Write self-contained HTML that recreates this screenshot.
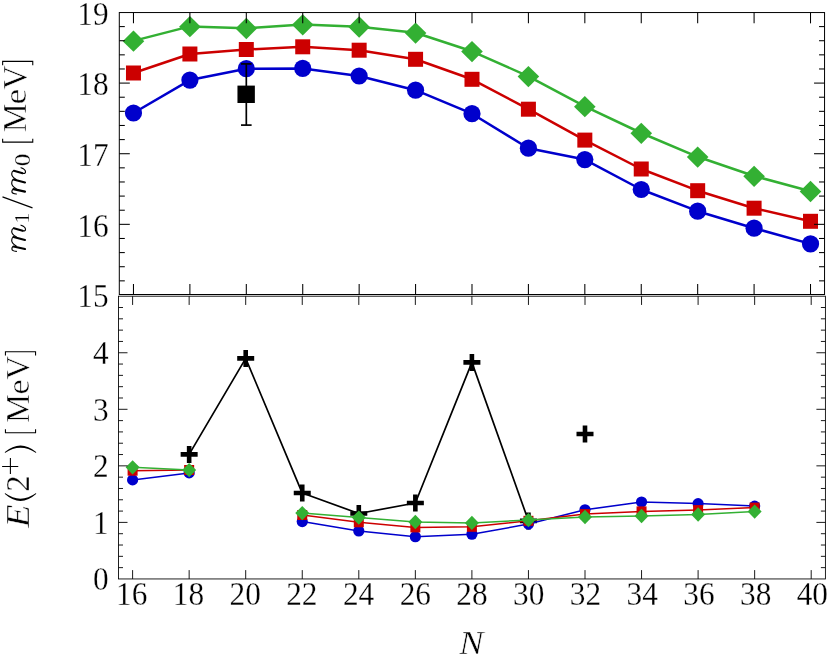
<!DOCTYPE html>
<html lang="en">
<head>
<meta charset="utf-8">
<title>m1/m0 and E(2+) versus N</title>
<style>
html,body{margin:0;padding:0;background:#fff;}
body{width:830px;height:658px;overflow:hidden;font-family:"Liberation Serif",serif;}
svg{display:block;}
#labels,#titles{filter:grayscale(1);}
</style>
</head>
<body>
<svg width="830" height="658" viewBox="0 0 830 658">
<rect width="830" height="658" fill="#fff"/>
<g id="top-data">
<polyline fill="none" stroke="#0000cc" stroke-width="2.5" stroke-linejoin="round" points="133.47,113 189.89,80.1 246.31,68.7 302.73,68.4 359.15,76 415.57,90.2 471.99,113.7 528.41,148.2 584.83,159.6 641.25,189.5 697.67,211.2 754.09,228.2 810.51,243.9"/>
<circle cx="133.47" cy="113" r="8.6" fill="#0000cc"/>
<circle cx="189.89" cy="80.1" r="8.6" fill="#0000cc"/>
<circle cx="246.31" cy="68.7" r="8.6" fill="#0000cc"/>
<circle cx="302.73" cy="68.4" r="8.6" fill="#0000cc"/>
<circle cx="359.15" cy="76" r="8.6" fill="#0000cc"/>
<circle cx="415.57" cy="90.2" r="8.6" fill="#0000cc"/>
<circle cx="471.99" cy="113.7" r="8.6" fill="#0000cc"/>
<circle cx="528.41" cy="148.2" r="8.6" fill="#0000cc"/>
<circle cx="584.83" cy="159.6" r="8.6" fill="#0000cc"/>
<circle cx="641.25" cy="189.5" r="8.6" fill="#0000cc"/>
<circle cx="697.67" cy="211.2" r="8.6" fill="#0000cc"/>
<circle cx="754.09" cy="228.2" r="8.6" fill="#0000cc"/>
<circle cx="810.51" cy="243.9" r="8.6" fill="#0000cc"/>
<line x1="246.31" y1="63.9" x2="246.31" y2="125.1" stroke="#000" stroke-width="1.7"/>
<line x1="241.01" y1="63.9" x2="251.61" y2="63.9" stroke="#000" stroke-width="1.7"/>
<line x1="241.01" y1="125.1" x2="251.61" y2="125.1" stroke="#000" stroke-width="1.7"/>
<rect x="237.46" y="85.6" width="17.4" height="17.4" fill="#000"/>
<polyline fill="none" stroke="#cc0000" stroke-width="2.5" stroke-linejoin="round" points="133.47,73 189.89,54 246.31,49.5 302.73,46.8 359.15,50.2 415.57,59.3 471.99,79.3 528.41,109.2 584.83,140.1 641.25,169 697.67,190.7 754.09,208.2 810.51,221.3"/>
<rect x="125.97" y="65.5" width="15" height="15" fill="#cc0000"/>
<rect x="182.39" y="46.5" width="15" height="15" fill="#cc0000"/>
<rect x="238.81" y="42" width="15" height="15" fill="#cc0000"/>
<rect x="295.23" y="39.3" width="15" height="15" fill="#cc0000"/>
<rect x="351.65" y="42.7" width="15" height="15" fill="#cc0000"/>
<rect x="408.07" y="51.8" width="15" height="15" fill="#cc0000"/>
<rect x="464.49" y="71.8" width="15" height="15" fill="#cc0000"/>
<rect x="520.91" y="101.7" width="15" height="15" fill="#cc0000"/>
<rect x="577.33" y="132.6" width="15" height="15" fill="#cc0000"/>
<rect x="633.75" y="161.5" width="15" height="15" fill="#cc0000"/>
<rect x="690.17" y="183.2" width="15" height="15" fill="#cc0000"/>
<rect x="746.59" y="200.7" width="15" height="15" fill="#cc0000"/>
<rect x="803.01" y="213.8" width="15" height="15" fill="#cc0000"/>
<polyline fill="none" stroke="#33b033" stroke-width="2.5" stroke-linejoin="round" points="133.47,40.9 189.89,26.4 246.31,28.2 302.73,24.5 359.15,26.7 415.57,32.8 471.99,51.3 528.41,76.3 584.83,106.4 641.25,133 697.67,156.8 754.09,176 810.51,191.2"/>
<path d="M122.67 41.2L133.47 30.55L144.27 41.2L133.47 51.85Z" fill="#33b033"/>
<path d="M179.09 26.7L189.89 16.05L200.69 26.7L189.89 37.35Z" fill="#33b033"/>
<path d="M235.51 28.5L246.31 17.85L257.11 28.5L246.31 39.15Z" fill="#33b033"/>
<path d="M291.93 24.8L302.73 14.15L313.53 24.8L302.73 35.45Z" fill="#33b033"/>
<path d="M348.35 27L359.15 16.35L369.95 27L359.15 37.65Z" fill="#33b033"/>
<path d="M404.77 33.1L415.57 22.45L426.37 33.1L415.57 43.75Z" fill="#33b033"/>
<path d="M461.19 51.6L471.99 40.95L482.79 51.6L471.99 62.25Z" fill="#33b033"/>
<path d="M517.61 76.6L528.41 65.95L539.21 76.6L528.41 87.25Z" fill="#33b033"/>
<path d="M574.03 106.7L584.83 96.05L595.63 106.7L584.83 117.35Z" fill="#33b033"/>
<path d="M630.45 133.3L641.25 122.65L652.05 133.3L641.25 143.95Z" fill="#33b033"/>
<path d="M686.87 157.1L697.67 146.45L708.47 157.1L697.67 167.75Z" fill="#33b033"/>
<path d="M743.29 176.3L754.09 165.65L764.89 176.3L754.09 186.95Z" fill="#33b033"/>
<path d="M799.71 191.5L810.51 180.85L821.31 191.5L810.51 202.15Z" fill="#33b033"/>
</g>
<g id="bot-data">
<polyline fill="none" stroke="#000" stroke-width="1.7" stroke-linejoin="round" points="189.15,454.4 245.7,358.4 302.25,493.05 358.8,513.5 415.35,503 471.9,362.4 528.45,520.9"/>
<path d="M180.65 454.4H197.65M189.15 445.9V462.9" stroke="#000" stroke-width="4.6" fill="none"/>
<path d="M237.2 358.4H254.2M245.7 349.9V366.9" stroke="#000" stroke-width="4.6" fill="none"/>
<path d="M293.75 493.05H310.75M302.25 484.55V501.55" stroke="#000" stroke-width="4.6" fill="none"/>
<path d="M350.3 513.5H367.3M358.8 505V522" stroke="#000" stroke-width="4.6" fill="none"/>
<path d="M406.85 503H423.85M415.35 494.5V511.5" stroke="#000" stroke-width="4.6" fill="none"/>
<path d="M463.4 362.4H480.4M471.9 353.9V370.9" stroke="#000" stroke-width="4.6" fill="none"/>
<path d="M519.95 520.9H536.95M528.45 512.4V529.4" stroke="#000" stroke-width="4.6" fill="none"/>
<path d="M576.5 434H593.5M585 425.5V442.5" stroke="#000" stroke-width="4.6" fill="none"/>
<polyline fill="none" stroke="#0000cc" stroke-width="1.5" stroke-linejoin="round" points="132.6,479.9 189.15,472.9"/>
<polyline fill="none" stroke="#0000cc" stroke-width="1.5" stroke-linejoin="round" points="302.25,521.6 358.8,531 415.35,536.7 471.9,534.2 528.45,524.1 585,509.8 641.55,502 698.1,503.6 754.65,506.1"/>
<circle cx="132.6" cy="479.9" r="5.6" fill="#0000cc"/>
<circle cx="189.15" cy="472.9" r="5.6" fill="#0000cc"/>
<circle cx="302.25" cy="521.6" r="5.6" fill="#0000cc"/>
<circle cx="358.8" cy="531" r="5.6" fill="#0000cc"/>
<circle cx="415.35" cy="536.7" r="5.6" fill="#0000cc"/>
<circle cx="471.9" cy="534.2" r="5.6" fill="#0000cc"/>
<circle cx="528.45" cy="524.1" r="5.6" fill="#0000cc"/>
<circle cx="585" cy="509.8" r="5.6" fill="#0000cc"/>
<circle cx="641.55" cy="502" r="5.6" fill="#0000cc"/>
<circle cx="698.1" cy="503.6" r="5.6" fill="#0000cc"/>
<circle cx="754.65" cy="506.1" r="5.6" fill="#0000cc"/>
<polyline fill="none" stroke="#cc0000" stroke-width="1.5" stroke-linejoin="round" points="132.6,470.7 189.15,470"/>
<polyline fill="none" stroke="#cc0000" stroke-width="1.5" stroke-linejoin="round" points="302.25,515 358.8,522.3 415.35,527.4 471.9,526.8 528.45,520.8 585,514.1 641.55,511.4 698.1,510.1 754.65,507.6"/>
<rect x="127.6" y="465.7" width="10.0" height="10.0" fill="#cc0000"/>
<rect x="184.15" y="465" width="10.0" height="10.0" fill="#cc0000"/>
<rect x="297.25" y="510" width="10.0" height="10.0" fill="#cc0000"/>
<rect x="353.8" y="517.3" width="10.0" height="10.0" fill="#cc0000"/>
<rect x="410.35" y="522.4" width="10.0" height="10.0" fill="#cc0000"/>
<rect x="466.9" y="521.8" width="10.0" height="10.0" fill="#cc0000"/>
<rect x="523.45" y="515.8" width="10.0" height="10.0" fill="#cc0000"/>
<rect x="580" y="509.1" width="10.0" height="10.0" fill="#cc0000"/>
<rect x="636.55" y="506.4" width="10.0" height="10.0" fill="#cc0000"/>
<rect x="693.1" y="505.1" width="10.0" height="10.0" fill="#cc0000"/>
<rect x="749.65" y="502.6" width="10.0" height="10.0" fill="#cc0000"/>
<polyline fill="none" stroke="#33b033" stroke-width="1.5" stroke-linejoin="round" points="132.6,467.3 189.15,470.1"/>
<polyline fill="none" stroke="#33b033" stroke-width="1.5" stroke-linejoin="round" points="302.25,513.1 358.8,517.6 415.35,522 471.9,522.9 528.45,520.1 585,517 641.55,516 698.1,514.5 754.65,511.6"/>
<path d="M125.6 467.3L132.6 460.15L139.6 467.3L132.6 474.45Z" fill="#33b033"/>
<path d="M182.15 470.1L189.15 462.95L196.15 470.1L189.15 477.25Z" fill="#33b033"/>
<path d="M295.25 513.1L302.25 505.95L309.25 513.1L302.25 520.25Z" fill="#33b033"/>
<path d="M351.8 517.6L358.8 510.45L365.8 517.6L358.8 524.75Z" fill="#33b033"/>
<path d="M408.35 522L415.35 514.85L422.35 522L415.35 529.15Z" fill="#33b033"/>
<path d="M464.9 522.9L471.9 515.75L478.9 522.9L471.9 530.05Z" fill="#33b033"/>
<path d="M521.45 520.1L528.45 512.95L535.45 520.1L528.45 527.25Z" fill="#33b033"/>
<path d="M578 517L585 509.85L592 517L585 524.15Z" fill="#33b033"/>
<path d="M634.55 516L641.55 508.85L648.55 516L641.55 523.15Z" fill="#33b033"/>
<path d="M691.1 514.5L698.1 507.35L705.1 514.5L698.1 521.65Z" fill="#33b033"/>
<path d="M747.65 511.6L754.65 504.45L761.65 511.6L754.65 518.75Z" fill="#33b033"/>
</g>
<g id="frames" fill="none">
<rect x="119.3" y="12.55" width="705.25" height="281.95" stroke="#000" stroke-width="1.0"/>
<rect x="118.5" y="296.2" width="706.9" height="282.75" stroke="#000" stroke-width="0.87"/>
</g>
<g id="ticks-top">
<line x1="133.47" y1="12.55" x2="133.47" y2="23.35" stroke="#000" stroke-width="1.05"/>
<line x1="133.47" y1="294.5" x2="133.47" y2="284" stroke="#000" stroke-width="1.05"/>
<line x1="189.89" y1="12.55" x2="189.89" y2="23.35" stroke="#000" stroke-width="1.05"/>
<line x1="189.89" y1="294.5" x2="189.89" y2="284" stroke="#000" stroke-width="1.05"/>
<line x1="246.31" y1="12.55" x2="246.31" y2="23.35" stroke="#000" stroke-width="1.05"/>
<line x1="246.31" y1="294.5" x2="246.31" y2="284" stroke="#000" stroke-width="1.05"/>
<line x1="302.73" y1="12.55" x2="302.73" y2="23.35" stroke="#000" stroke-width="1.05"/>
<line x1="302.73" y1="294.5" x2="302.73" y2="284" stroke="#000" stroke-width="1.05"/>
<line x1="359.15" y1="12.55" x2="359.15" y2="23.35" stroke="#000" stroke-width="1.05"/>
<line x1="359.15" y1="294.5" x2="359.15" y2="284" stroke="#000" stroke-width="1.05"/>
<line x1="415.57" y1="12.55" x2="415.57" y2="23.35" stroke="#000" stroke-width="1.05"/>
<line x1="415.57" y1="294.5" x2="415.57" y2="284" stroke="#000" stroke-width="1.05"/>
<line x1="471.99" y1="12.55" x2="471.99" y2="23.35" stroke="#000" stroke-width="1.05"/>
<line x1="471.99" y1="294.5" x2="471.99" y2="284" stroke="#000" stroke-width="1.05"/>
<line x1="528.41" y1="12.55" x2="528.41" y2="23.35" stroke="#000" stroke-width="1.05"/>
<line x1="528.41" y1="294.5" x2="528.41" y2="284" stroke="#000" stroke-width="1.05"/>
<line x1="584.83" y1="12.55" x2="584.83" y2="23.35" stroke="#000" stroke-width="1.05"/>
<line x1="584.83" y1="294.5" x2="584.83" y2="284" stroke="#000" stroke-width="1.05"/>
<line x1="641.25" y1="12.55" x2="641.25" y2="23.35" stroke="#000" stroke-width="1.05"/>
<line x1="641.25" y1="294.5" x2="641.25" y2="284" stroke="#000" stroke-width="1.05"/>
<line x1="697.67" y1="12.55" x2="697.67" y2="23.35" stroke="#000" stroke-width="1.05"/>
<line x1="697.67" y1="294.5" x2="697.67" y2="284" stroke="#000" stroke-width="1.05"/>
<line x1="754.09" y1="12.55" x2="754.09" y2="23.35" stroke="#000" stroke-width="1.05"/>
<line x1="754.09" y1="294.5" x2="754.09" y2="284" stroke="#000" stroke-width="1.05"/>
<line x1="810.51" y1="12.55" x2="810.51" y2="23.35" stroke="#000" stroke-width="1.05"/>
<line x1="810.51" y1="294.5" x2="810.51" y2="284" stroke="#000" stroke-width="1.05"/>
<line x1="119.3" y1="26.59" x2="124.8" y2="26.59" stroke="#000" stroke-width="1.05"/>
<line x1="824.55" y1="26.59" x2="819.05" y2="26.59" stroke="#000" stroke-width="1.05"/>
<line x1="119.3" y1="40.72" x2="124.8" y2="40.72" stroke="#000" stroke-width="1.05"/>
<line x1="824.55" y1="40.72" x2="819.05" y2="40.72" stroke="#000" stroke-width="1.05"/>
<line x1="119.3" y1="54.84" x2="124.8" y2="54.84" stroke="#000" stroke-width="1.05"/>
<line x1="824.55" y1="54.84" x2="819.05" y2="54.84" stroke="#000" stroke-width="1.05"/>
<line x1="119.3" y1="68.97" x2="124.8" y2="68.97" stroke="#000" stroke-width="1.05"/>
<line x1="824.55" y1="68.97" x2="819.05" y2="68.97" stroke="#000" stroke-width="1.05"/>
<line x1="119.3" y1="83.09" x2="129.8" y2="83.09" stroke="#000" stroke-width="1.05"/>
<line x1="824.55" y1="83.09" x2="814.05" y2="83.09" stroke="#000" stroke-width="1.05"/>
<line x1="119.3" y1="97.22" x2="124.8" y2="97.22" stroke="#000" stroke-width="1.05"/>
<line x1="824.55" y1="97.22" x2="819.05" y2="97.22" stroke="#000" stroke-width="1.05"/>
<line x1="119.3" y1="111.34" x2="124.8" y2="111.34" stroke="#000" stroke-width="1.05"/>
<line x1="824.55" y1="111.34" x2="819.05" y2="111.34" stroke="#000" stroke-width="1.05"/>
<line x1="119.3" y1="125.47" x2="124.8" y2="125.47" stroke="#000" stroke-width="1.05"/>
<line x1="824.55" y1="125.47" x2="819.05" y2="125.47" stroke="#000" stroke-width="1.05"/>
<line x1="119.3" y1="139.59" x2="124.8" y2="139.59" stroke="#000" stroke-width="1.05"/>
<line x1="824.55" y1="139.59" x2="819.05" y2="139.59" stroke="#000" stroke-width="1.05"/>
<line x1="119.3" y1="153.72" x2="129.8" y2="153.72" stroke="#000" stroke-width="1.05"/>
<line x1="824.55" y1="153.72" x2="814.05" y2="153.72" stroke="#000" stroke-width="1.05"/>
<line x1="119.3" y1="167.84" x2="124.8" y2="167.84" stroke="#000" stroke-width="1.05"/>
<line x1="824.55" y1="167.84" x2="819.05" y2="167.84" stroke="#000" stroke-width="1.05"/>
<line x1="119.3" y1="181.97" x2="124.8" y2="181.97" stroke="#000" stroke-width="1.05"/>
<line x1="824.55" y1="181.97" x2="819.05" y2="181.97" stroke="#000" stroke-width="1.05"/>
<line x1="119.3" y1="196.09" x2="124.8" y2="196.09" stroke="#000" stroke-width="1.05"/>
<line x1="824.55" y1="196.09" x2="819.05" y2="196.09" stroke="#000" stroke-width="1.05"/>
<line x1="119.3" y1="210.22" x2="124.8" y2="210.22" stroke="#000" stroke-width="1.05"/>
<line x1="824.55" y1="210.22" x2="819.05" y2="210.22" stroke="#000" stroke-width="1.05"/>
<line x1="119.3" y1="224.34" x2="129.8" y2="224.34" stroke="#000" stroke-width="1.05"/>
<line x1="824.55" y1="224.34" x2="814.05" y2="224.34" stroke="#000" stroke-width="1.05"/>
<line x1="119.3" y1="238.47" x2="124.8" y2="238.47" stroke="#000" stroke-width="1.05"/>
<line x1="824.55" y1="238.47" x2="819.05" y2="238.47" stroke="#000" stroke-width="1.05"/>
<line x1="119.3" y1="252.59" x2="124.8" y2="252.59" stroke="#000" stroke-width="1.05"/>
<line x1="824.55" y1="252.59" x2="819.05" y2="252.59" stroke="#000" stroke-width="1.05"/>
<line x1="119.3" y1="266.72" x2="124.8" y2="266.72" stroke="#000" stroke-width="1.05"/>
<line x1="824.55" y1="266.72" x2="819.05" y2="266.72" stroke="#000" stroke-width="1.05"/>
<line x1="119.3" y1="280.85" x2="124.8" y2="280.85" stroke="#000" stroke-width="1.05"/>
<line x1="824.55" y1="280.85" x2="819.05" y2="280.85" stroke="#000" stroke-width="1.05"/>
</g>
<g id="ticks-bot">
<line x1="132.6" y1="296.2" x2="132.6" y2="304.95" stroke="#000" stroke-width="0.9"/>
<line x1="132.6" y1="578.95" x2="132.6" y2="570.1" stroke="#000" stroke-width="0.9"/>
<line x1="189.15" y1="296.2" x2="189.15" y2="304.95" stroke="#000" stroke-width="0.9"/>
<line x1="189.15" y1="578.95" x2="189.15" y2="570.1" stroke="#000" stroke-width="0.9"/>
<line x1="245.7" y1="296.2" x2="245.7" y2="304.95" stroke="#000" stroke-width="0.9"/>
<line x1="245.7" y1="578.95" x2="245.7" y2="570.1" stroke="#000" stroke-width="0.9"/>
<line x1="302.25" y1="296.2" x2="302.25" y2="304.95" stroke="#000" stroke-width="0.9"/>
<line x1="302.25" y1="578.95" x2="302.25" y2="570.1" stroke="#000" stroke-width="0.9"/>
<line x1="358.8" y1="296.2" x2="358.8" y2="304.95" stroke="#000" stroke-width="0.9"/>
<line x1="358.8" y1="578.95" x2="358.8" y2="570.1" stroke="#000" stroke-width="0.9"/>
<line x1="415.35" y1="296.2" x2="415.35" y2="304.95" stroke="#000" stroke-width="0.9"/>
<line x1="415.35" y1="578.95" x2="415.35" y2="570.1" stroke="#000" stroke-width="0.9"/>
<line x1="471.9" y1="296.2" x2="471.9" y2="304.95" stroke="#000" stroke-width="0.9"/>
<line x1="471.9" y1="578.95" x2="471.9" y2="570.1" stroke="#000" stroke-width="0.9"/>
<line x1="528.45" y1="296.2" x2="528.45" y2="304.95" stroke="#000" stroke-width="0.9"/>
<line x1="528.45" y1="578.95" x2="528.45" y2="570.1" stroke="#000" stroke-width="0.9"/>
<line x1="585" y1="296.2" x2="585" y2="304.95" stroke="#000" stroke-width="0.9"/>
<line x1="585" y1="578.95" x2="585" y2="570.1" stroke="#000" stroke-width="0.9"/>
<line x1="641.55" y1="296.2" x2="641.55" y2="304.95" stroke="#000" stroke-width="0.9"/>
<line x1="641.55" y1="578.95" x2="641.55" y2="570.1" stroke="#000" stroke-width="0.9"/>
<line x1="698.1" y1="296.2" x2="698.1" y2="304.95" stroke="#000" stroke-width="0.9"/>
<line x1="698.1" y1="578.95" x2="698.1" y2="570.1" stroke="#000" stroke-width="0.9"/>
<line x1="754.65" y1="296.2" x2="754.65" y2="304.95" stroke="#000" stroke-width="0.9"/>
<line x1="754.65" y1="578.95" x2="754.65" y2="570.1" stroke="#000" stroke-width="0.9"/>
<line x1="811.2" y1="296.2" x2="811.2" y2="304.95" stroke="#000" stroke-width="0.9"/>
<line x1="811.2" y1="578.95" x2="811.2" y2="570.1" stroke="#000" stroke-width="0.9"/>
<line x1="118.5" y1="307.51" x2="123" y2="307.51" stroke="#000" stroke-width="0.9"/>
<line x1="825.4" y1="307.51" x2="820.9" y2="307.51" stroke="#000" stroke-width="0.9"/>
<line x1="118.5" y1="318.82" x2="123" y2="318.82" stroke="#000" stroke-width="0.9"/>
<line x1="825.4" y1="318.82" x2="820.9" y2="318.82" stroke="#000" stroke-width="0.9"/>
<line x1="118.5" y1="330.13" x2="123" y2="330.13" stroke="#000" stroke-width="0.9"/>
<line x1="825.4" y1="330.13" x2="820.9" y2="330.13" stroke="#000" stroke-width="0.9"/>
<line x1="118.5" y1="341.44" x2="123" y2="341.44" stroke="#000" stroke-width="0.9"/>
<line x1="825.4" y1="341.44" x2="820.9" y2="341.44" stroke="#000" stroke-width="0.9"/>
<line x1="118.5" y1="352.75" x2="127.5" y2="352.75" stroke="#000" stroke-width="0.9"/>
<line x1="825.4" y1="352.75" x2="816.4" y2="352.75" stroke="#000" stroke-width="0.9"/>
<line x1="118.5" y1="364.06" x2="123" y2="364.06" stroke="#000" stroke-width="0.9"/>
<line x1="825.4" y1="364.06" x2="820.9" y2="364.06" stroke="#000" stroke-width="0.9"/>
<line x1="118.5" y1="375.37" x2="123" y2="375.37" stroke="#000" stroke-width="0.9"/>
<line x1="825.4" y1="375.37" x2="820.9" y2="375.37" stroke="#000" stroke-width="0.9"/>
<line x1="118.5" y1="386.68" x2="123" y2="386.68" stroke="#000" stroke-width="0.9"/>
<line x1="825.4" y1="386.68" x2="820.9" y2="386.68" stroke="#000" stroke-width="0.9"/>
<line x1="118.5" y1="397.99" x2="123" y2="397.99" stroke="#000" stroke-width="0.9"/>
<line x1="825.4" y1="397.99" x2="820.9" y2="397.99" stroke="#000" stroke-width="0.9"/>
<line x1="118.5" y1="409.3" x2="127.5" y2="409.3" stroke="#000" stroke-width="0.9"/>
<line x1="825.4" y1="409.3" x2="816.4" y2="409.3" stroke="#000" stroke-width="0.9"/>
<line x1="118.5" y1="420.61" x2="123" y2="420.61" stroke="#000" stroke-width="0.9"/>
<line x1="825.4" y1="420.61" x2="820.9" y2="420.61" stroke="#000" stroke-width="0.9"/>
<line x1="118.5" y1="431.92" x2="123" y2="431.92" stroke="#000" stroke-width="0.9"/>
<line x1="825.4" y1="431.92" x2="820.9" y2="431.92" stroke="#000" stroke-width="0.9"/>
<line x1="118.5" y1="443.23" x2="123" y2="443.23" stroke="#000" stroke-width="0.9"/>
<line x1="825.4" y1="443.23" x2="820.9" y2="443.23" stroke="#000" stroke-width="0.9"/>
<line x1="118.5" y1="454.54" x2="123" y2="454.54" stroke="#000" stroke-width="0.9"/>
<line x1="825.4" y1="454.54" x2="820.9" y2="454.54" stroke="#000" stroke-width="0.9"/>
<line x1="118.5" y1="465.85" x2="127.5" y2="465.85" stroke="#000" stroke-width="0.9"/>
<line x1="825.4" y1="465.85" x2="816.4" y2="465.85" stroke="#000" stroke-width="0.9"/>
<line x1="118.5" y1="477.16" x2="123" y2="477.16" stroke="#000" stroke-width="0.9"/>
<line x1="825.4" y1="477.16" x2="820.9" y2="477.16" stroke="#000" stroke-width="0.9"/>
<line x1="118.5" y1="488.47" x2="123" y2="488.47" stroke="#000" stroke-width="0.9"/>
<line x1="825.4" y1="488.47" x2="820.9" y2="488.47" stroke="#000" stroke-width="0.9"/>
<line x1="118.5" y1="499.78" x2="123" y2="499.78" stroke="#000" stroke-width="0.9"/>
<line x1="825.4" y1="499.78" x2="820.9" y2="499.78" stroke="#000" stroke-width="0.9"/>
<line x1="118.5" y1="511.09" x2="123" y2="511.09" stroke="#000" stroke-width="0.9"/>
<line x1="825.4" y1="511.09" x2="820.9" y2="511.09" stroke="#000" stroke-width="0.9"/>
<line x1="118.5" y1="522.4" x2="127.5" y2="522.4" stroke="#000" stroke-width="0.9"/>
<line x1="825.4" y1="522.4" x2="816.4" y2="522.4" stroke="#000" stroke-width="0.9"/>
<line x1="118.5" y1="533.71" x2="123" y2="533.71" stroke="#000" stroke-width="0.9"/>
<line x1="825.4" y1="533.71" x2="820.9" y2="533.71" stroke="#000" stroke-width="0.9"/>
<line x1="118.5" y1="545.02" x2="123" y2="545.02" stroke="#000" stroke-width="0.9"/>
<line x1="825.4" y1="545.02" x2="820.9" y2="545.02" stroke="#000" stroke-width="0.9"/>
<line x1="118.5" y1="556.33" x2="123" y2="556.33" stroke="#000" stroke-width="0.9"/>
<line x1="825.4" y1="556.33" x2="820.9" y2="556.33" stroke="#000" stroke-width="0.9"/>
<line x1="118.5" y1="567.64" x2="123" y2="567.64" stroke="#000" stroke-width="0.9"/>
<line x1="825.4" y1="567.64" x2="820.9" y2="567.64" stroke="#000" stroke-width="0.9"/>
</g>
<g id="labels" font-family="'Liberation Serif', serif" font-size="31.8" fill="#000" stroke="#fff" stroke-width="0.25">
<text transform="translate(108.6 24.67) scale(0.985 1.027)" text-anchor="end">19</text>
<text transform="translate(108.6 95.3) scale(0.985 1.027)" text-anchor="end">18</text>
<text transform="translate(108.6 165.92) scale(0.985 1.027)" text-anchor="end">17</text>
<text transform="translate(108.6 236.54) scale(0.985 1.027)" text-anchor="end">16</text>
<text transform="translate(108.6 307.17) scale(0.985 1.027)" text-anchor="end">15</text>
<text transform="translate(108.6 590.35) scale(0.985 1.027)" text-anchor="end">0</text>
<text transform="translate(108.6 533.8) scale(0.985 1.027)" text-anchor="end">1</text>
<text transform="translate(108.6 477.25) scale(0.985 1.027)" text-anchor="end">2</text>
<text transform="translate(108.6 420.7) scale(0.985 1.027)" text-anchor="end">3</text>
<text transform="translate(108.6 364.15) scale(0.985 1.027)" text-anchor="end">4</text>
<text transform="translate(131.7 604.6) scale(0.985 1.027)" text-anchor="middle">16</text>
<text transform="translate(188.42 604.6) scale(0.985 1.027)" text-anchor="middle">18</text>
<text transform="translate(245.14 604.6) scale(0.985 1.027)" text-anchor="middle">20</text>
<text transform="translate(301.86 604.6) scale(0.985 1.027)" text-anchor="middle">22</text>
<text transform="translate(358.58 604.6) scale(0.985 1.027)" text-anchor="middle">24</text>
<text transform="translate(415.3 604.6) scale(0.985 1.027)" text-anchor="middle">26</text>
<text transform="translate(472.02 604.6) scale(0.985 1.027)" text-anchor="middle">28</text>
<text transform="translate(528.74 604.6) scale(0.985 1.027)" text-anchor="middle">30</text>
<text transform="translate(585.46 604.6) scale(0.985 1.027)" text-anchor="middle">32</text>
<text transform="translate(642.18 604.6) scale(0.985 1.027)" text-anchor="middle">34</text>
<text transform="translate(698.9 604.6) scale(0.985 1.027)" text-anchor="middle">36</text>
<text transform="translate(755.62 604.6) scale(0.985 1.027)" text-anchor="middle">38</text>
<text transform="translate(812.34 604.6) scale(0.985 1.027)" text-anchor="middle">40</text>
</g>
<g id="titles" font-family="'Liberation Serif', serif" font-size="32.0" fill="#000">
<text font-style="italic" stroke="#fff" stroke-width="0.4" transform="translate(458.9 653.8) scale(1.1404 1.0309) translate(0.234 0.000)">N</text>
<g fill="none" stroke="#000" stroke-linecap="round">
<path stroke-width="1.15" d="M 16.4 251.4 C 14 251.2 12 250.4 11.9 249 C 11.8 248 12.3 247.2 13.2 246.6 M 16.2 246.1 C 13.6 244.6 11.7 243 11.7 240.6 C 11.7 238.9 12.2 237.6 13.2 236.9 M 16.2 236.8 C 13.6 235.4 11.7 233.8 11.7 231.5 C 11.7 229.8 12.3 228.8 13.5 228.2 M 22.5 230.7 C 24.6 231.3 25.6 230.6 25.5 229.2 C 25.4 227.6 23.5 226 21 225.2"/>
<path stroke-width="2.1" d="M 13.5 246.5 L 25 249 M 13.6 236.95 L 25 239.9 M 13.9 228.25 L 22.6 230.7"/>
</g>
<text stroke="#fff" stroke-width="0.35" transform="translate(29.39 221.89) rotate(-90) scale(0.6999 0.6857) translate(-2.812 0.000)">1</text>
<path d="M2.5 196.9L32.5 207.9" stroke="#000" stroke-width="1.17" fill="none"/>
<g fill="none" stroke="#000" stroke-linecap="round">
<path stroke-width="1.15" d="M 16.4 194 C 14 193.8 12 193 11.9 191.6 C 11.8 190.6 12.3 189.8 13.2 189.2 M 16.2 188.7 C 13.6 187.2 11.7 185.6 11.7 183.2 C 11.7 181.5 12.2 180.2 13.2 179.5 M 16.2 179.4 C 13.6 178 11.7 176.4 11.7 174.1 C 11.7 172.4 12.3 171.4 13.5 170.8 M 22.5 173.3 C 24.6 173.9 25.6 173.2 25.5 171.8 C 25.4 170.2 23.5 168.6 21 167.8"/>
<path stroke-width="2.1" d="M 13.5 189.1 L 25 191.6 M 13.6 179.55 L 25 182.5 M 13.9 170.85 L 22.6 173.3"/>
</g>
<text stroke="#fff" stroke-width="0.35" transform="translate(29.79 165.29) rotate(-90) scale(0.7878 0.7032) translate(-1.219 -0.312)">0</text>
<path d="M2.64 138.7V142.11H32.76V138.7" stroke="#000" stroke-width="1.08" fill="none" stroke-linejoin="miter"/>
<text stroke="#fff" stroke-width="0.5" transform="translate(26.07 131.38) rotate(-90) scale(1.0172 1.0571) translate(-0.922 0.000)">M</text>
<text stroke="#fff" stroke-width="0.5" transform="translate(26.47 103.08) rotate(-90) scale(1.1018 0.9974) translate(-1.250 -0.312)">e</text>
<text stroke="#fff" stroke-width="0.5" transform="translate(26.47 89.03) rotate(-90) scale(1.0406 1.0519) translate(-0.359 -0.484)">V</text>
<path d="M2.64 65.2V61.39H32.76V65.2" stroke="#000" stroke-width="1.08" fill="none" stroke-linejoin="miter"/>
<text font-style="italic" stroke="#fff" stroke-width="0.4" transform="translate(29.12 528.32) rotate(-90) scale(1.1976 1.0662) translate(0.375 0.000)">E</text>
<path transform="matrix(0 -1 1 0 4.9 500.9)" d="M6.9 0Q-6.9 15.6 6.9 31.2L7.8 31.2Q-3.4 15.6 7.8 0Z" fill="#000"/>
<text stroke="#fff" stroke-width="0.3" transform="translate(29.06 490.27) rotate(-90) scale(1.0235 1.0209) translate(-1.406 0.000)">2</text>
<path d="M2.1 466.5H18.25M10.4 458.1V474.1" stroke="#000" stroke-width="1.08" fill="none"/>
<path transform="matrix(0 -1 1 0 4.9 452.9)" d="M0.9 0Q13.9 15.6 0.9 31.2L0 31.2Q10.4 15.6 0 0Z" fill="#000"/>
<path d="M5.44 429.2V432.71H35.56V429.2" stroke="#000" stroke-width="1.08" fill="none" stroke-linejoin="miter"/>
<text stroke="#fff" stroke-width="0.5" transform="translate(29.17 422.17) rotate(-90) scale(1.0209 1.0714) translate(-0.922 0.000)">M</text>
<text stroke="#fff" stroke-width="0.5" transform="translate(29.17 393.17) rotate(-90) scale(1.0639 0.9974) translate(-1.250 -0.312)">e</text>
<text stroke="#fff" stroke-width="0.5" transform="translate(29.17 379.47) rotate(-90) scale(1.0384 1.0472) translate(-0.359 -0.484)">V</text>
<path d="M5.44 355.6V351.79H35.56V355.6" stroke="#000" stroke-width="1.08" fill="none" stroke-linejoin="miter"/>
</g>
</svg>
</body>
</html>
